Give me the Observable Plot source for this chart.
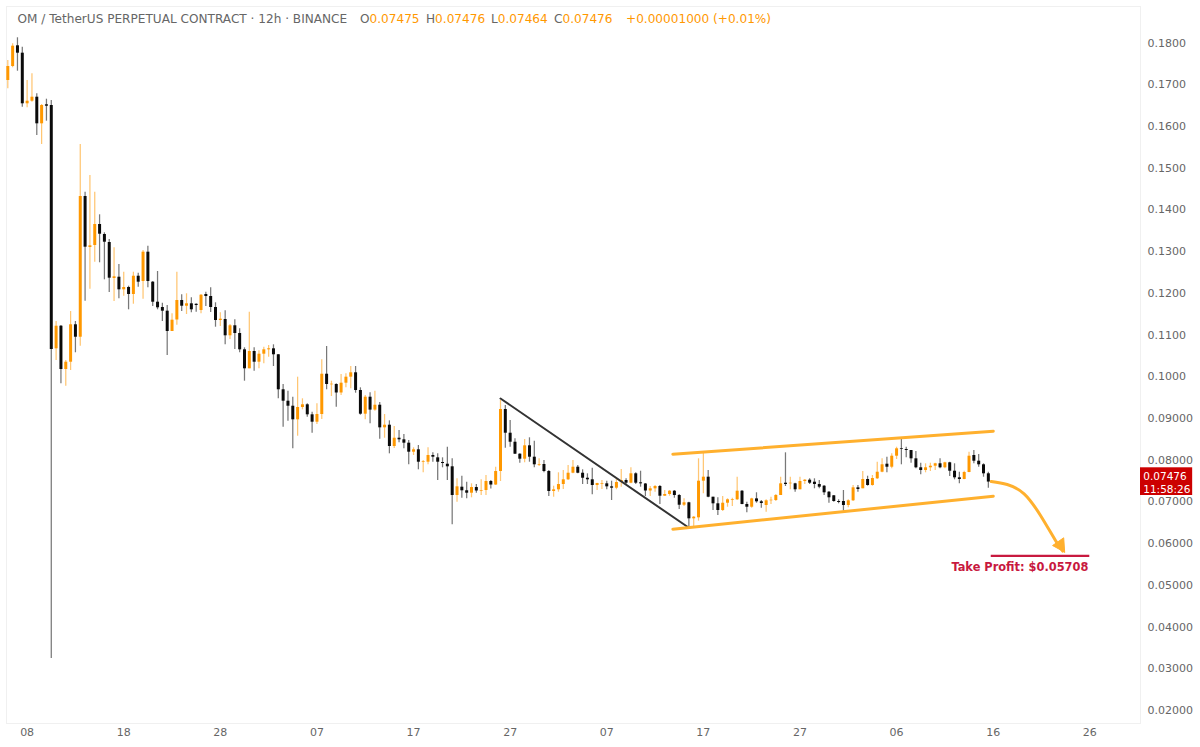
<!DOCTYPE html>
<html>
<head>
<meta charset="utf-8">
<script src="https://cdn.jsdelivr.net/npm/d3@7"></script>
<script src="https://cdn.jsdelivr.net/npm/@observablehq/plot@0.6"></script>
<style>
html,body{margin:0;padding:0;background:#fff}
#wrap{position:relative;width:1200px;height:747px;overflow:hidden}
.h{position:absolute;top:11px;font:12.1px "DejaVu Sans",sans-serif;line-height:16px;white-space:pre;color:#666}
.v{color:#ff9800}
</style>
</head>
<body>
<div id="wrap"></div>
<script>
// OHLC, in thousandths of a USDT
const opens = [
171.01,174.37,179.33,177.56,165.43,166.05,167.01,160.63,165.19,165.02,
106.70,112.12,101.74,103.49,112.46,109.48,143.21,130.98,131.46,136.50,
134.10,132.18,123.55,123.86,120.84,121.40,119.72,124.10,122.83,129.86,
122.67,117.87,116.60,115.72,110.85,113.61,118.28,116.91,117.49,117.37,
115.88,119.72,119.24,116.60,113.49,113.72,109.82,112.22,110.37,106.46,
101.91,106.06,103.49,105.41,106.46,106.70,105.27,96.88,94.14,92.94,
89.68,92.63,93.28,90.88,89.11,90.95,100.61,98.07,98.15,96.11,
98.46,99.90,100.95,96.71,91.03,95.10,92.01,93.18,87.76,88.39,
83.28,85.27,84.89,84.08,81.92,82.49,79.52,79.52,81.13,80.57,
79.45,79.04,78.42,71.54,73.53,72.67,72.09,73.45,72.57,72.74,
74.89,74.05,77.29,92.15,86.47,84.31,81.44,80.24,83.45,80.72,
78.80,78.97,77.29,72.50,72.90,74.17,75.30,76.88,78.32,76.88,
75.68,75.30,73.94,74.25,74.34,73.62,73.29,74.66,75.13,74.49,
76.74,74.58,74.30,72.62,73.14,73.70,71.37,71.78,72.57,71.54,
69.21,69.79,65.95,66.19,74.97,75.93,71.13,69.55,67.94,69.69,
70.41,70.51,72.57,69.38,68.73,70.73,70.03,69.14,70.27,70.34,
71.54,74.49,74.34,74.34,72.91,74.89,75.21,74.73,74.17,73.77,
72.33,71.47,70.10,70.10,69.14,70.27,73.38,73.15,75.37,73.94,
75.54,77.12,79.04,78.32,80.96,82.73,82.56,82.32,80.33,78.18,
77.53,78.18,78.56,79.14,78.18,79.38,77.36,75.78,75.37,77.05,
81.13,79.76,78.90,76.74];
const closes = [
174.37,179.24,177.56,165.43,166.05,167.01,160.63,165.02,164.85,106.53,
112.12,101.74,103.49,112.46,109.48,143.21,131.06,131.39,136.50,134.17,
132.25,123.63,123.96,120.84,121.40,119.72,124.10,122.67,129.86,122.83,
117.87,116.53,115.72,110.85,113.56,118.28,116.91,117.49,116.05,117.08,
119.55,119.24,116.60,113.49,113.80,109.82,112.22,110.37,106.46,101.91,
106.06,103.49,105.41,106.46,106.70,105.27,96.88,94.14,92.94,89.68,
92.63,93.28,90.88,89.11,90.95,100.61,98.15,98.22,96.11,98.46,
99.90,100.95,96.71,91.03,95.10,92.01,93.18,87.76,88.39,83.28,
85.27,84.89,84.08,81.92,82.49,79.52,79.69,81.13,80.72,79.52,
79.21,78.42,71.54,73.62,72.67,72.09,73.45,72.62,72.74,74.89,
74.05,77.29,92.15,86.47,84.31,81.44,80.24,83.45,80.72,78.90,
78.97,77.29,72.50,72.90,74.17,75.30,76.88,78.32,76.88,75.68,
75.30,73.94,74.42,74.42,73.62,73.29,74.66,75.13,74.49,76.74,
74.49,74.34,72.62,73.14,73.70,71.37,71.78,72.57,71.54,69.21,
69.79,65.95,66.34,74.97,75.93,71.13,69.55,67.94,69.69,70.51,
70.58,72.57,69.38,68.73,70.73,70.03,69.62,70.27,70.41,71.54,
74.34,74.17,74.49,72.91,74.89,75.21,74.49,74.17,73.53,72.19,
70.99,70.10,69.86,69.14,70.27,73.38,72.98,75.37,73.94,75.61,
77.12,78.90,78.32,80.96,82.73,82.56,82.32,80.33,78.18,77.53,
78.18,78.56,79.14,78.18,79.38,77.36,75.78,75.37,77.05,80.96,
79.76,78.90,76.74,74.76];
const highs = [
175.81,179.81,181.25,178.96,171.01,172.62,167.83,165.26,166.53,166.22,
113.25,112.29,103.90,115.64,113.25,155.67,144.24,148.24,144.24,138.82,
134.51,132.90,130.91,126.91,125.06,121.71,125.06,124.82,130.27,131.30,
122.83,125.23,117.63,117.08,115.09,125.06,119.65,119.89,118.93,117.49,
119.72,120.27,121.32,117.73,115.33,115.81,112.53,113.65,111.50,106.94,
115.48,106.94,106.22,107.09,107.49,107.66,105.34,98.14,96.54,95.10,
99.90,94.72,93.52,91.51,93.52,104.07,107.25,98.94,98.31,100.54,
100.71,102.46,102.46,97.35,95.51,96.15,96.54,93.83,90.95,89.44,
88.08,87.12,86.16,84.72,82.97,83.52,79.93,82.97,81.77,81.53,
80.57,83.11,80.33,75.54,76.16,74.73,74.34,74.17,75.30,76.33,
75.13,78.32,94.31,93.11,89.52,85.13,81.53,84.96,85.37,84.55,
80.33,79.93,77.53,73.77,76.98,77.53,78.73,79.93,78.73,77.70,
76.74,78.08,74.49,75.13,74.97,74.97,75.54,77.77,75.54,78.18,
76.98,77.36,74.42,73.70,73.94,73.94,72.74,72.74,72.74,71.78,
70.75,69.93,66.50,80.33,81.92,77.53,71.13,70.99,71.30,70.75,
70.89,75.93,72.74,69.93,70.89,72.19,70.34,70.51,71.13,71.78,
75.93,81.77,75.93,74.49,75.93,75.37,75.54,75.54,75.13,73.94,
72.50,71.54,70.51,72.74,70.51,73.94,73.94,77.29,76.16,76.33,
79.52,80.33,80.72,81.53,83.11,85.37,83.11,82.32,82.08,79.28,
79.14,79.28,79.28,80.33,79.52,79.52,79.14,77.12,77.36,81.92,
82.32,81.37,79.14,77.12];
const lows = [
169.02,174.06,173.24,164.61,164.47,165.81,157.83,155.67,161.26,32.46,
103.90,98.31,97.74,101.50,105.75,107.33,118.11,121.00,127.46,127.32,
123.24,120.20,118.04,118.69,119.31,116.05,117.39,121.47,118.59,121.32,
116.84,116.05,113.25,105.09,110.85,112.36,115.64,114.92,115.33,115.48,
115.09,116.84,115.40,111.88,112.05,107.66,108.93,106.53,105.75,98.94,
101.91,101.33,101.91,103.11,104.69,102.46,94.72,87.91,89.35,82.73,
85.75,92.08,90.31,86.47,88.56,89.76,96.88,95.27,92.70,95.51,
97.35,97.11,96.06,90.79,89.68,88.72,91.74,85.03,85.27,81.53,
82.80,84.17,82.73,78.90,81.13,77.70,76.98,78.90,79.52,75.13,
78.18,75.13,64.52,69.93,70.89,70.75,70.99,72.09,71.54,71.54,
73.10,73.94,74.89,82.88,83.12,81.37,79.28,79.38,79.52,78.18,
78.49,76.98,71.30,71.13,72.33,72.98,75.13,76.74,76.74,74.17,
74.17,71.70,72.74,72.98,72.91,70.34,72.91,73.53,74.17,74.34,
74.17,73.53,71.30,71.30,72.33,69.38,71.30,71.37,70.89,68.18,
68.90,63.70,63.94,65.38,71.94,70.99,67.94,66.74,67.70,68.73,
68.90,70.34,69.31,67.39,68.49,69.69,68.49,67.53,69.38,70.10,
71.54,73.70,72.91,72.33,72.91,74.17,74.17,73.15,73.15,71.54,
69.69,69.93,69.55,67.77,68.59,70.10,72.33,73.15,73.77,73.77,
75.37,76.98,76.98,77.94,80.17,78.90,80.57,79.28,77.94,76.50,
76.98,77.29,77.53,77.94,77.94,76.09,75.30,74.34,75.30,76.98,
79.14,78.32,75.92,73.29];

const priceTicks = [0.18,0.17,0.16,0.15,0.14,0.13,0.12,0.11,0.10,0.09,0.08,0.07,0.06,0.05,0.04,0.03,0.02];
const dayTickBars = [4,24,44,64,84,104,124,144,164,184,204,224];
const dayTickLabels = ["08","18","28","07","17","27","07","17","27","06","16","26"];

// drawn annotations: [bar position, price]
const downTrend = [[102,0.09479],[141,0.0638]];
const channelUpper = [[137.68,0.08144],[204.02,0.08695]];
const channelLower = [[137.68,0.06346],[204.02,0.07137]];
const arrowCurve = [[203.6,0.07489],[206.9,0.07417],[210.4,0.07195],[213.8,0.06674],[216.9,0.06075],[218.4,0.05820]];
const arrowHead = [[218.8,0.05795],[216.3,0.05955],[218.6,0.0614],[218.8,0.05795]];
const takeProfit = 0.05708;
const takeProfitSpan = [203.6,224];
const lastPrice = "0.07476";
const countdown = "11:58:26";

const candles = opens.map((o,i)=>({i,open:o/1000,close:closes[i]/1000,high:highs[i]/1000,low:lows[i]/1000,up:closes[i]>=o}));
const UP="#ff9800", DOWN="#0a0a0a", LINE="#ffb02e", TP="#c8193f";
const col = d=>d.up?UP:DOWN;
const X=d=>d[0], Y=d=>d[1];

const chart = Plot.plot({
  width:1200, height:747,
  marginLeft:6, marginRight:60, marginTop:6, marginBottom:24,
  style:{fontFamily:'"DejaVu Sans",sans-serif',fontSize:"11px",background:"#fff",color:"#666"},
  x:{type:"linear",domain:[-0.27,234.5],range:[6,1140],label:null},
  y:{type:"linear",domain:[0.01689,0.18875],range:[723,6],label:null},
  marks:[
    Plot.frame({stroke:"#f0f0f0"}),
    Plot.ruleX(candles,{x:"i",y1:"low",y2:"high",stroke:col,strokeWidth:1.25,strokeOpacity:0.55}),
    Plot.ruleX(candles,{x:"i",y1:"open",y2:"close",stroke:col,strokeWidth:3}),
    Plot.line(downTrend,{x:X,y:Y,stroke:"#333",strokeWidth:2}),
    Plot.line(channelUpper,{x:X,y:Y,stroke:LINE,strokeWidth:3}),
    Plot.line(channelLower,{x:X,y:Y,stroke:LINE,strokeWidth:3}),
    Plot.line(arrowCurve,{x:X,y:Y,stroke:LINE,strokeWidth:3,curve:"natural"}),
    Plot.line(arrowHead,{x:X,y:Y,stroke:LINE,fill:LINE,strokeWidth:1}),
    Plot.ruleY([takeProfit],{x1:takeProfitSpan[0],x2:takeProfitSpan[1],stroke:TP,strokeWidth:2.4}),
    Plot.text(["Take Profit: $0.05708"],{x:[223.7],y:[0.05428],text:d=>d,textAnchor:"end",fill:TP,fontWeight:"bold",fontSize:11.4}),
    Plot.rect([0],{x1:[234.5],x2:[245.3],y1:[0.07154],y2:[0.07818],fill:"#cc0000"}),
    Plot.text([lastPrice+"\n"+countdown],{x:[235.07],y:[0.07476],text:d=>d,textAnchor:"start",fill:"#fff",fontSize:10.5,lineHeight:1.27}),
    Plot.axisY(priceTicks,{anchor:"right",tickSize:0,tickPadding:7,fill:"#666",label:null,
      tickFormat:v=>v>=0.0999?v.toFixed(4):v.toFixed(5)}),
    Plot.axisX(dayTickBars,{anchor:"bottom",tickSize:0,tickPadding:5,fill:"#666",label:null,
      tickFormat:v=>dayTickLabels[dayTickBars.indexOf(v)]})
  ]
});
const wrap=document.getElementById("wrap");
chart.style.display="block";
wrap.appendChild(chart);

const header=[
 [17.5,"OM / TetherUS PERPETUAL CONTRACT · 12h · BINANCE",""],
 [360,"O","0.07475"],[426,"H","0.07476"],[491,"L","0.07464"],[554,"C","0.07476"],
 [626,"","+0.00001000 (+0.01%)"]
];
header.forEach(([x,a,b])=>{
  const s=document.createElement("div");
  s.className="h"; s.style.left=x+"px";
  s.append(a);
  const v=document.createElement("span"); v.className="v"; v.textContent=b; s.append(v);
  wrap.appendChild(s);
});
</script>
</body>
</html>
